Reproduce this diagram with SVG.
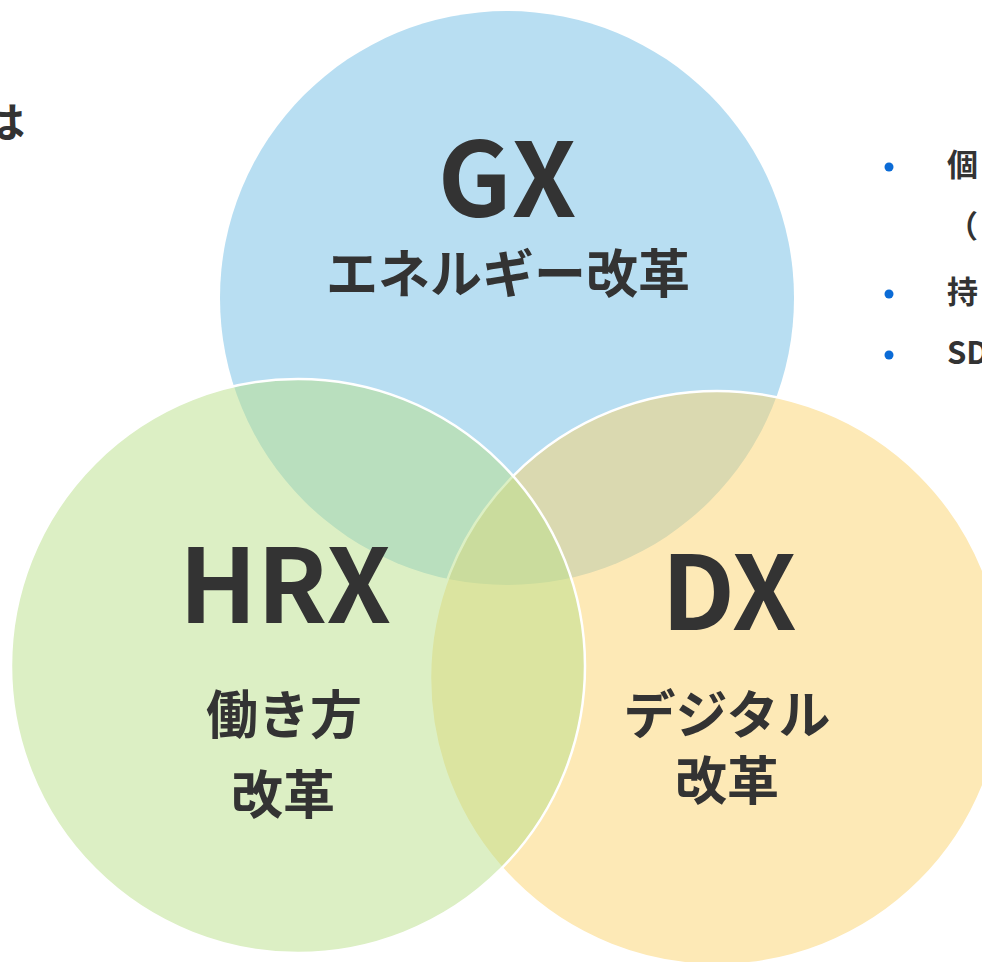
<svg xmlns="http://www.w3.org/2000/svg" width="982" height="962" viewBox="0 0 982 962">
<style>
.t{font-family:"Noto Sans CJK JP","Noto Sans",sans-serif;font-weight:700;fill:#333333;text-anchor:middle}
.big{font-size:103px}
.sub{font-size:52px}
.side{font-family:"Noto Sans CJK JP","Noto Sans",sans-serif;font-weight:700;fill:#333333;font-size:31px}
.dot{fill:#0B6BD6}
</style>
<rect width="982" height="962" fill="#FFFFFF"/>
<g id="title">
<text class="side" x="-17" y="138" style="font-size:42px">は</text>
</g>
<g id="gx">
<circle cx="507" cy="298" r="287" fill="#B8DEF2"/>
<text class="t big" x="507" y="217">GX</text>
<text class="t sub" x="508" y="293">エネルギー改革</text>
</g>
<g id="dx">
<circle cx="717" cy="678" r="287" fill="#FBD36D" fill-opacity="0.5" stroke="#FFFFFF" stroke-width="2.5"/>
<text class="t big" x="729" y="630">DX</text>
<text class="t sub" x="727" y="734">デジタル</text>
<text class="t sub" x="727" y="800">改革</text>
</g>
<g id="hrx">
<circle cx="298" cy="666" r="287" fill="#B9DF89" fill-opacity="0.5" stroke="#FFFFFF" stroke-width="2.5"/>
<text class="t big" x="285" y="623">HRX</text>
<text class="t sub" x="284" y="734">働き方</text>
<text class="t sub" x="283" y="814">改革</text>
</g>
<g id="bullets">
<circle class="dot" cx="889" cy="167" r="4.5"/>
<circle class="dot" cx="889" cy="294" r="4.5"/>
<circle class="dot" cx="889" cy="355" r="4.5"/>
<text class="side" x="947" y="176">個</text>
<text class="side" x="947" y="237">（</text>
<text class="side" x="947" y="303">持</text>
<text class="side" x="947" y="364">SD</text>
</g>
</svg>
